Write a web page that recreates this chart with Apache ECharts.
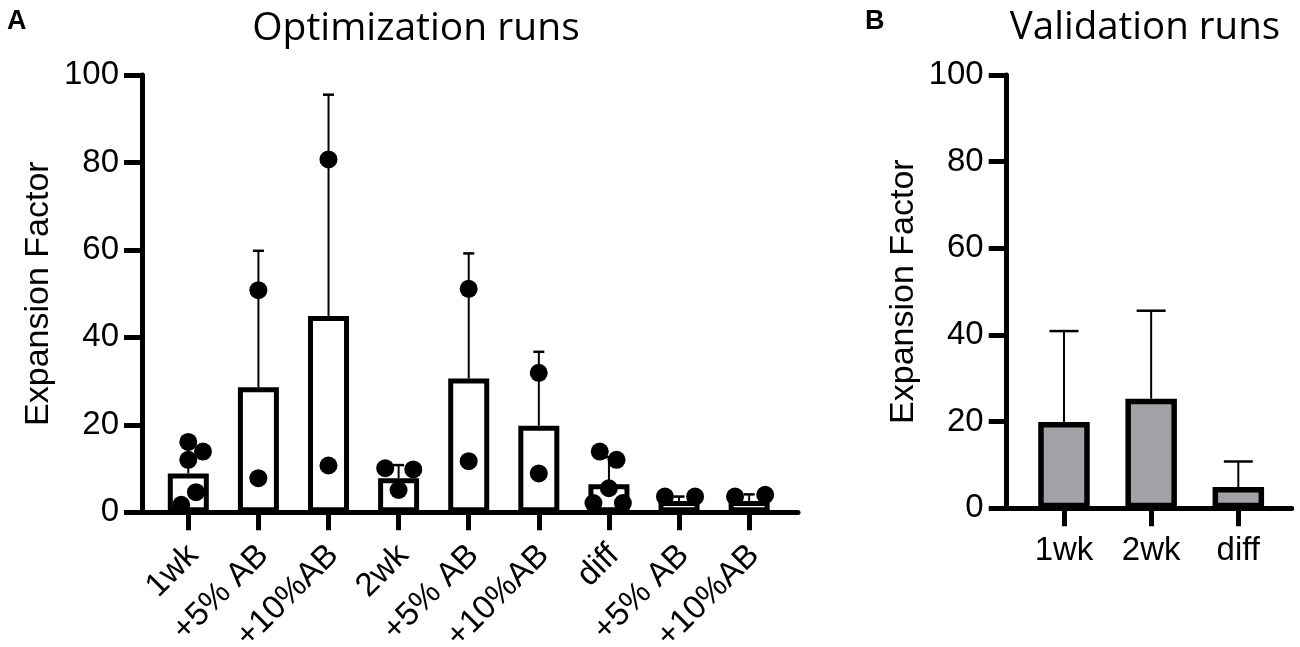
<!DOCTYPE html>
<html>
<head>
<meta charset="utf-8">
<script src="https://cdn.jsdelivr.net/npm/echarts@6/dist/echarts.min.js"></script>
<style>
  html, body { margin: 0; padding: 0; background: #fff; }
  #wrap { width: 1300px; height: 647px; }
</style>
</head>
<body>
<div id="wrap"></div>
<script>
// panel A: optimization runs
var optCategories = ['1wk', '+5% AB', '+10%AB', '2wk', '+5% AB', '+10%AB', 'diff', '+5% AB', '+10%AB'];
var optBars = [8.9, 28.6, 44.9, 7.8, 30.6, 19.8, 6.4, 2.6, 2.6];
var optErrTop = [15.9, 59.8, 95.5, 10.8, 59.2, 36.7, 12.6, 3.6, 4.1];
// individual runs per group, and their sideways spread (in category widths)
var optDots = [
  [16.1, 13.9, 12.0, 4.6, 1.7],
  [50.8, 7.8],
  [80.7, 10.7],
  [10.1, 9.8, 5.1],
  [51.1, 11.7],
  [31.9, 8.9],
  [13.9, 12.0, 5.5, 2.1, 2.1],
  [3.6, 3.6],
  [3.6, 4.0]
];
var optJitter = [
  [0, 0.21, 0, 0.11, -0.10],
  [0, 0],
  [0, 0],
  [-0.19, 0.21, 0],
  [0, 0],
  [0, 0],
  [-0.13, 0.11, 0, -0.22, 0.20],
  [-0.20, 0.23],
  [-0.20, 0.23]
];

// panel B: validation runs
var valCategories = ['1wk', '2wk', 'diff'];
var valBars = [19.9, 25.3, 4.9];
var valErrTop = [40.9, 45.6, 10.8];

var yTicks = { min: 0, max: 100, interval: 20 };

var labelFont = 'Liberation Sans, Arial, sans-serif';
var titleFont = 'Open Sans, sans-serif';

var optErrData = optBars.map(function (v, i) { return [i, v, optErrTop[i]]; });
var valErrData = valBars.map(function (v, i) { return [i, v, valErrTop[i]]; });
var dotData = [];
optDots.forEach(function (vals, i) {
  vals.forEach(function (v, k) { dotData.push([i + optJitter[i][k], v]); });
});

function errorBar(capHalf) {
  return function (params, api) {
    var lo = api.coord([api.value(0), api.value(1)]);
    var hi = api.coord([api.value(0), api.value(2)]);
    return {
      type: 'group',
      children: [
        { type: 'line', shape: { x1: lo[0], y1: lo[1], x2: hi[0], y2: hi[1] }, style: { stroke: '#000', lineWidth: 2 } },
        { type: 'line', shape: { x1: hi[0] - capHalf, y1: hi[1], x2: hi[0] + capHalf, y2: hi[1] }, style: { stroke: '#000', lineWidth: 2.5 } }
      ]
    };
  };
}

function valueAxis(grid, offset, showAll) {
  return {
    type: 'value', gridIndex: grid, min: yTicks.min, max: yTicks.max, interval: yTicks.interval,
    show: showAll, offset: offset,
    name: 'Expansion Factor', nameLocation: 'middle', nameGap: 86,
    nameTextStyle: { fontFamily: labelFont, fontSize: 34, color: '#000' },
    axisLine: { show: true, lineStyle: { color: '#000', width: 5 } },
    axisTick: { show: true, length: 18, lineStyle: { color: '#000', width: 5 } },
    axisLabel: { margin: 23, fontFamily: labelFont, fontSize: 33, color: '#000' },
    splitLine: { show: false }
  };
}

function lineOnlyAxis(grid, min, max) {
  return {
    type: 'value', gridIndex: grid, min: min, max: max,
    axisLine: { show: true, onZero: false, lineStyle: { color: '#000', width: 5 } },
    axisTick: { show: false }, axisLabel: { show: false }, splitLine: { show: false }
  };
}

function gridBox(left, right, bottom) {
  return { left: left, right: right, top: 75, bottom: bottom, containLabel: false, outerBoundsMode: 'none' };
}

var option = {
  backgroundColor: '#fff',
  animation: false,
  title: [
    { text: 'A', left: 2, top: 3, textStyle: { fontFamily: labelFont, fontWeight: 'bold', fontSize: 27, color: '#000' } },
    { text: 'Optimization runs', left: 411, top: 4, textAlign: 'center', textStyle: { fontFamily: titleFont, fontWeight: 'normal', fontSize: 39, color: '#000' } },
    { text: 'B', left: 860, top: 3, textStyle: { fontFamily: labelFont, fontWeight: 'bold', fontSize: 27, color: '#000' } },
    { text: 'Validation runs', left: 1140, top: 4, textAlign: 'center', textStyle: { fontFamily: titleFont, fontWeight: 'normal', fontSize: 38.5, color: '#000' } }
  ],
  grid: [
    gridBox(153.25, 515.8, 134.7),
    gridBox(142, 502, 134.7),
    gridBox(1020.4, 18.1, 138.7),
    gridBox(1006.7, 8.3, 138.7)
  ],
  xAxis: [
    {
      type: 'category', gridIndex: 0, data: optCategories,
      axisLine: { show: true, lineStyle: { color: '#000', width: 5 } },
      axisTick: { show: true, alignWithLabel: true, length: 18, lineStyle: { color: '#000', width: 5 } },
      axisLabel: {
        interval: 0, rotate: 45, margin: 33, align: 'right', verticalAlign: 'top', lineHeight: 14,
        fontFamily: labelFont, fontSize: 33, color: '#000'
      }
    },
    lineOnlyAxis(1, -0.66, 8.698),
    {
      type: 'category', gridIndex: 2, data: valCategories,
      axisLine: { show: true, lineStyle: { color: '#000', width: 5 } },
      axisTick: { show: true, alignWithLabel: true, length: 18, lineStyle: { color: '#000', width: 5 } },
      axisLabel: { interval: 0, margin: 26, fontFamily: labelFont, fontSize: 33, color: '#000' }
    },
    lineOnlyAxis(3, 0, 1)
  ],
  yAxis: [
    valueAxis(0, 11.25, true),
    valueAxis(1, 0, false),
    valueAxis(2, 13.7, true),
    valueAxis(3, 0, false)
  ],
  series: [
    {
      type: 'custom', xAxisIndex: 0, yAxisIndex: 0, z: 1,
      renderItem: errorBar(5.5), encode: { x: 0, y: [1, 2] }, data: optErrData
    },
    {
      type: 'bar', xAxisIndex: 0, yAxisIndex: 0, z: 2, barWidth: 41, data: optBars,
      itemStyle: { color: '#fff', borderColor: '#000', borderWidth: 5 }
    },
    {
      type: 'scatter', xAxisIndex: 1, yAxisIndex: 1, z: 3, symbolSize: 18, data: dotData,
      itemStyle: { color: '#000', opacity: 1 }
    },
    {
      type: 'custom', xAxisIndex: 2, yAxisIndex: 2, z: 1,
      renderItem: errorBar(14.5), encode: { x: 0, y: [1, 2] }, data: valErrData
    },
    {
      type: 'bar', xAxisIndex: 2, yAxisIndex: 2, z: 2, barWidth: 51.5, data: valBars,
      itemStyle: { color: '#a2a2a6', borderColor: '#000', borderWidth: 5.5 }
    }
  ]
};

var myChart = echarts.init(document.getElementById('wrap'));
myChart.setOption(option);
</script>
</body>
</html>
